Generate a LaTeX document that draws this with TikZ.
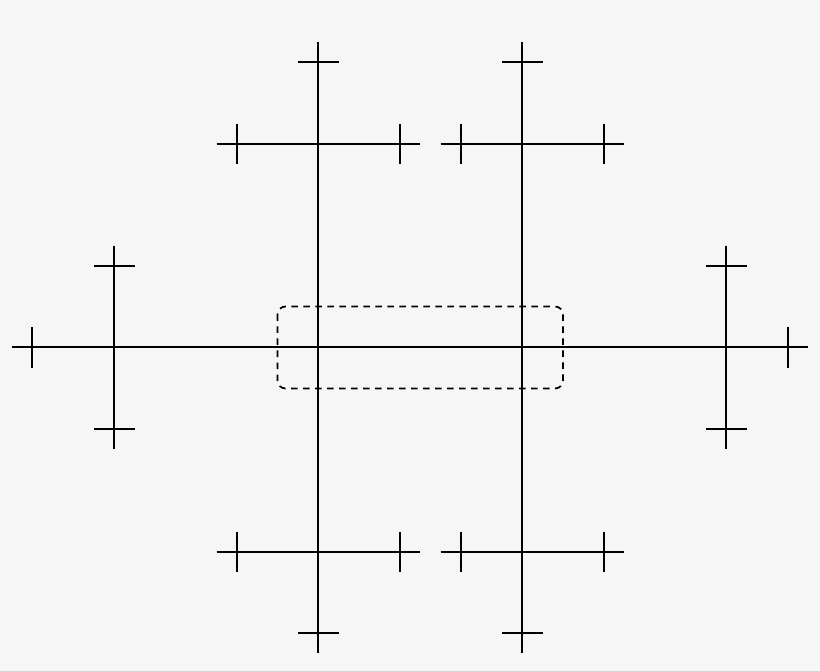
\documentclass[tikz,border=0pt]{standalone}
\begin{document}
\begin{tikzpicture}[x=1pt,y=-1pt,
  wire/.style={line width=2pt,black},
  box/.style={line width=1.7pt,black,dash pattern=on 6.5pt off 5.5pt,rounded corners=8pt}]
\definecolor{bg}{HTML}{F6F6F6}
\fill[bg] (0,0) rectangle (820,671);
\useasboundingbox (0,0) rectangle (820,671);
% main horizontal
\draw[wire] (12,347.5) -- (808,347.5);
\draw[wire] (32.3,327.5) -- (32.3,367.5);
\draw[wire] (787.7,327.5) -- (787.7,367.5);
% side verticals
\foreach \x in {114.3,726.3}{
  \draw[wire] (\x,245.7) -- (\x,449.3);
  \draw[wire] (\x-20.3,266) -- (\x+20.3,266);
  \draw[wire] (\x-20.3,429) -- (\x+20.3,429);
}
% central verticals
\foreach \x in {318.3,522.3}{
  \draw[wire] (\x,42) -- (\x,653);
  \draw[wire] (\x-20.3,62.3) -- (\x+20.3,62.3);
  \draw[wire] (\x-20.3,632.7) -- (\x+20.3,632.7);
}
% top and bottom horizontals
\foreach \y in {143.7,551.7}{
  \draw[wire] (216.7,\y) -- (420,\y);
  \draw[wire] (236.7,\y-20) -- (236.7,\y+20);
  \draw[wire] (400,\y-20) -- (400,\y+20);
  \draw[wire] (440.7,\y) -- (624.3,\y);
  \draw[wire] (461,\y-20) -- (461,\y+20);
  \draw[wire] (604,\y-20) -- (604,\y+20);
}
% dashed box
\draw[box] (277.5,306.5) rectangle (563,388.5);
\end{tikzpicture}
\end{document}
